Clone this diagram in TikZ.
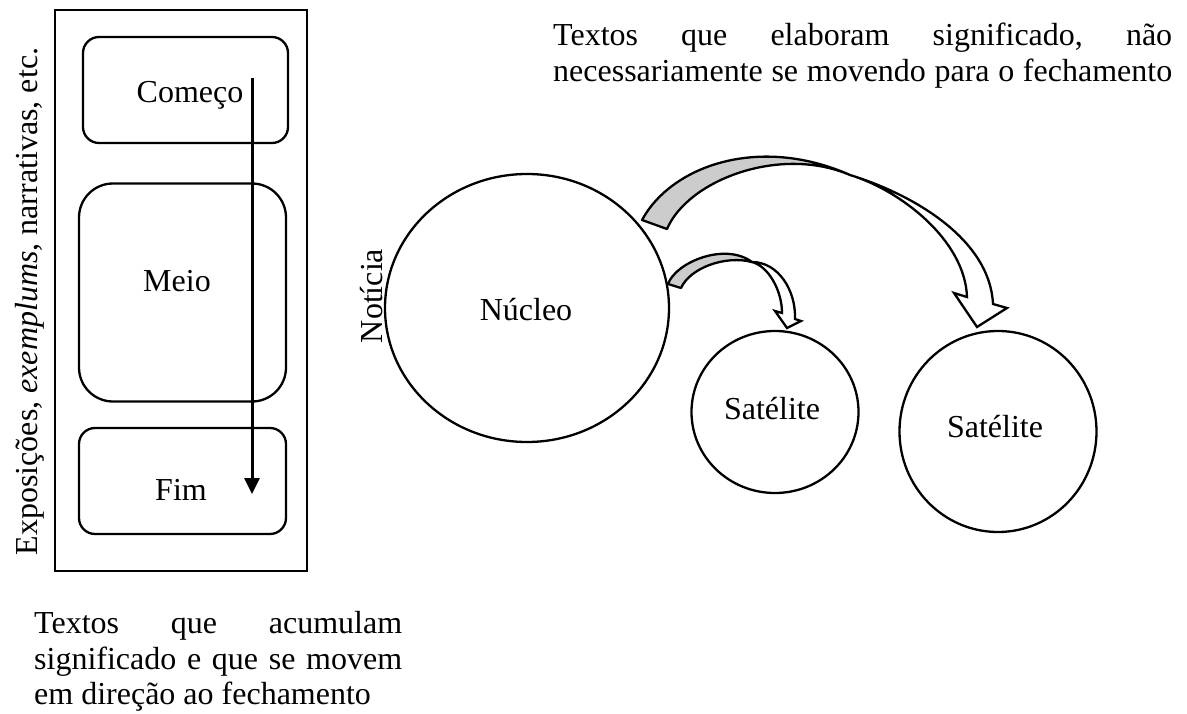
\documentclass[tikz,border=0pt]{standalone}
\usepackage{fontspec}
\setmainfont{Liberation Serif}
\usetikzlibrary{arrows.meta,shapes.geometric}
\begin{document}
\begin{tikzpicture}[x=1pt,y=1pt,
  outl/.style={draw=black,line width=2.3pt},
  roundbox/.style={outl,rounded corners=#1,inner sep=0pt},
  bubble/.style={outl,ellipse,inner sep=0pt},
  lbl/.style={font=\fontsize{32}{36}\selectfont,inner sep=0pt,anchor=base},
  backband/.style={outl,fill=black!20,line join=round},
  frontband/.style={outl,fill=white,line join=miter},
  flow/.style={line width=3pt,-{Triangle[width=15pt,length=16pt]}},
]
\useasboundingbox (0,0) rectangle (1187,-714);
\fill[white] (0,0) rectangle (1187,-714);

% left column
\node[outl,inner sep=0pt,minimum width=252pt,minimum height=561pt] (frame) at (181,-290.5) {};
\node[roundbox=16pt,minimum width=205pt,minimum height=106pt] (comeco) at (185.5,-90) {};
\node[roundbox=34pt,minimum width=207pt,minimum height=218pt] (meio) at (182.5,-292.5) {};
\node[roundbox=16pt,minimum width=207pt,minimum height=106pt] (fim) at (182.5,-481) {};
\node[lbl] (tcomeco) at (190,-103) {Começo};
\node[lbl] (tmeio) at (177,-292) {Meio};
\node[lbl] (tfim) at (181,-500) {Fim};
\coordinate (vs) at (252,-78);
\coordinate (ve) at (252,-494);
\draw[flow] (vs) -- (ve);
\node[lbl,rotate=90] (side) at (37,-301.5) {Exposições, \textit{exemplums}, narrativas, etc.};

\node[lbl,anchor=base west] (b1) at (34,-633) {\hbox to 368pt{Textos\hfill que\hfill acumulam}};
\node[lbl,anchor=base west] (b2) at (34,-669) {\hbox to 368pt{significado\hfill e\hfill que\hfill se\hfill movem}};
\node[lbl,anchor=base west] (b3) at (34,-704) {em direção ao fechamento};

% right part
\node[lbl,anchor=base west] (t1) at (553,-46) {\hbox to 619pt{Textos\hfill que\hfill elaboram\hfill significado,\hfill não}};
\node[lbl,anchor=base west] (t2) at (553,-82) {\hbox to 619pt{necessariamente\hfill se\hfill movendo\hfill para\hfill o\hfill fechamento}};

\node[bubble,minimum width=284pt,minimum height=268pt] (nucleo) at (527,-308) {};
\node[bubble,minimum width=167pt,minimum height=162pt] (sat1) at (775,-412) {};
\node[bubble,minimum width=197pt,minimum height=201pt] (sat2) at (998,-431.5) {};
\node[lbl] (tnucleo) at (526,-320) {Núcleo};
\node[lbl] (tsat1) at (772,-419) {Satélite};
\node[lbl] (tsat2) at (995,-437) {Satélite};
\node[lbl,rotate=90] (noticia) at (382,-296) {Notícia};

% big curved arrow
\draw[backband] (642,-220) .. controls (672,-165) and (760,-135) .. (850,-175)
  .. controls (780,-145) and (688,-180) .. (667,-229) -- cycle;
\draw[frontband] (850,-175) .. controls (915,-195) and (990,-240) .. (993,-304)
  -- (1007,-308) -- (977,-327) -- (954,-293) -- (967,-297)
  .. controls (965,-240) and (900,-190) .. (850,-175) -- cycle;

% small curved arrow
\draw[backband] (668,-284) .. controls (676,-262) and (725,-242) .. (752,-262)
  .. controls (725,-255) and (690,-268) .. (681,-288) -- cycle;
\draw[frontband] (752,-262) .. controls (778,-262) and (796,-290) .. (795,-319)
  -- (801,-321) -- (787,-328) -- (775,-311) -- (782,-313)
  .. controls (782,-290) and (768,-266) .. (752,-262) -- cycle;
\end{tikzpicture}
\end{document}
